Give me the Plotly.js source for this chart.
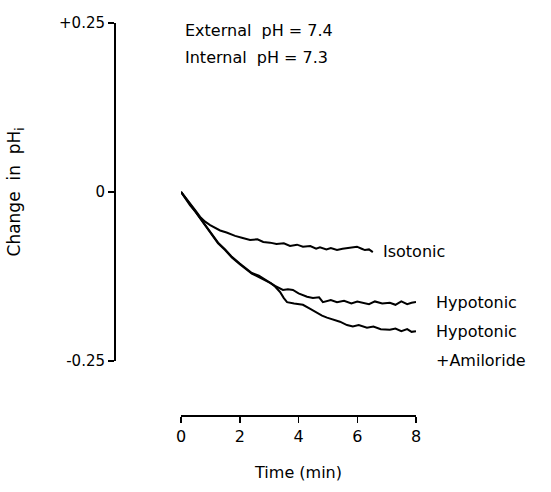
<!DOCTYPE html>
<html>
<head>
<meta charset="utf-8">
<script src="https://cdn.plot.ly/plotly-3.0.1.min.js"></script>
<style>html,body{margin:0;padding:0;background:#fff;}#chart{width:551px;height:492px;}</style>
</head>
<body>
<div id="chart"></div>
<script>
// Time (min) and change in pHi
const isoT = [0, 0.15, 0.31, 0.5, 0.65, 0.82, 0.99, 1.15, 1.33, 1.55, 1.84, 2.1, 2.35, 2.6, 2.8, 3.03, 3.25, 3.5, 3.71, 3.95, 4.15, 4.4, 4.6, 4.73, 4.95, 5.1, 5.31, 5.5, 5.75, 5.99, 6.15, 6.26, 6.4, 6.53];
const isoY = [0, -0.008, -0.017, -0.028, -0.037, -0.044, -0.049, -0.053, -0.057, -0.060, -0.065, -0.068, -0.071, -0.070, -0.074, -0.075, -0.077, -0.076, -0.080, -0.078, -0.081, -0.080, -0.084, -0.082, -0.085, -0.083, -0.086, -0.084, -0.083, -0.081, -0.084, -0.086, -0.085, -0.089];

const hypoT = [0, 0.15, 0.31, 0.5, 0.65, 0.82, 0.99, 1.1, 1.26, 1.5, 1.73, 2.0, 2.2, 2.41, 2.65, 2.86, 3.05, 3.2, 3.47, 3.64, 3.81, 4.0, 4.29, 4.49, 4.7, 4.83, 5.1, 5.31, 5.55, 5.8, 6.0, 6.19, 6.4, 6.6, 6.85, 7.11, 7.3, 7.5, 7.7, 7.85, 8.0];
const hypoY = [0, -0.009, -0.019, -0.029, -0.038, -0.049, -0.059, -0.066, -0.075, -0.085, -0.096, -0.106, -0.113, -0.120, -0.124, -0.130, -0.135, -0.139, -0.145, -0.144, -0.145, -0.150, -0.155, -0.157, -0.156, -0.163, -0.160, -0.163, -0.161, -0.165, -0.162, -0.164, -0.166, -0.162, -0.165, -0.164, -0.167, -0.162, -0.166, -0.164, -0.163];

const amilT = [0, 0.15, 0.31, 0.5, 0.65, 0.82, 0.99, 1.1, 1.26, 1.5, 1.73, 2.0, 2.2, 2.41, 2.65, 2.86, 3.05, 3.2, 3.37, 3.5, 3.61, 3.85, 4.15, 4.4, 4.63, 4.8, 4.97, 5.2, 5.41, 5.65, 5.85, 6.05, 6.33, 6.55, 6.8, 7.11, 7.3, 7.5, 7.7, 7.85, 8.0];
const amilY = [0, -0.010, -0.020, -0.030, -0.039, -0.050, -0.060, -0.066, -0.076, -0.086, -0.097, -0.107, -0.114, -0.121, -0.126, -0.131, -0.135, -0.140, -0.148, -0.157, -0.163, -0.165, -0.167, -0.173, -0.179, -0.183, -0.186, -0.189, -0.192, -0.197, -0.199, -0.197, -0.201, -0.199, -0.203, -0.204, -0.202, -0.206, -0.203, -0.207, -0.206];

const xTicks = [0, 2, 4, 6, 8];
const yTicks = [0.25, 0, -0.25];
const yTickText = ['+0.25', '0', '-0.25'];

const lineStyle = {color: '#000', width: 2};
const traces = [
  {x: isoT, y: isoY, name: 'Isotonic', mode: 'lines', line: lineStyle},
  {x: hypoT, y: hypoY, name: 'Hypotonic', mode: 'lines', line: lineStyle},
  {x: amilT, y: amilY, name: 'Hypotonic +Amiloride', mode: 'lines', line: lineStyle}
];

const fam = 'DejaVu Sans, Liberation Sans, sans-serif';
const layout = {
  width: 551, height: 492,
  margin: {l: 114, r: 135, t: 23, b: 77},
  paper_bgcolor: '#fff', plot_bgcolor: '#fff',
  showlegend: false,
  font: {family: fam, size: 15, color: '#000'},
  xaxis: {
    range: [0, 8], domain: [0.222, 1],
    anchor: 'free', position: 0,
    tickvals: xTicks, ticktext: xTicks.map(String),
    ticks: 'outside', ticklen: 6, tickwidth: 1.5, tickcolor: '#000',
    showline: true, linecolor: '#000', linewidth: 1.5,
    showgrid: false, zeroline: false,
    tickfont: {size: 16},
    title: {text: 'Time (min)', font: {size: 16}, standoff: 22},
    automargin: false
  },
  yaxis: {
    range: [-0.25, 0.25], domain: [0.138, 1],
    anchor: 'free', position: 0,
    tickvals: yTicks, ticktext: yTickText,
    ticks: 'outside', ticklen: 6, tickwidth: 1.5, tickcolor: '#000',
    showline: true, linecolor: '#000', linewidth: 1.5,
    showgrid: false, zeroline: false,
    tickfont: {size: 15},
    title: {text: 'Change  in  pH<sub>i</sub>', font: {size: 17}, standoff: 32},
    automargin: false
  },
  annotations: [
    {xref: 'paper', yref: 'paper', x: 0.228, y: 0.98, xanchor: 'left', yanchor: 'middle', text: 'External  pH = 7.4', showarrow: false, font: {size: 16}},
    {xref: 'paper', yref: 'paper', x: 0.228, y: 0.913, xanchor: 'left', yanchor: 'middle', text: 'Internal  pH = 7.3', showarrow: false, font: {size: 16}},
    {xref: 'paper', yref: 'paper', x: 0.884, y: 0.416, xanchor: 'left', yanchor: 'middle', text: 'Isotonic', showarrow: false, font: {size: 16}},
    {xref: 'paper', yref: 'paper', x: 1.06, y: 0.288, xanchor: 'left', yanchor: 'middle', text: 'Hypotonic', showarrow: false, font: {size: 16}},
    {xref: 'paper', yref: 'paper', x: 1.06, y: 0.214, xanchor: 'left', yanchor: 'middle', text: 'Hypotonic', showarrow: false, font: {size: 16}},
    {xref: 'paper', yref: 'paper', x: 1.06, y: 0.140, xanchor: 'left', yanchor: 'middle', text: '+Amiloride', showarrow: false, font: {size: 16}}
  ]
};

Plotly.newPlot('chart', traces, layout, {displayModeBar: false, staticPlot: true});
</script>
</body>
</html>
